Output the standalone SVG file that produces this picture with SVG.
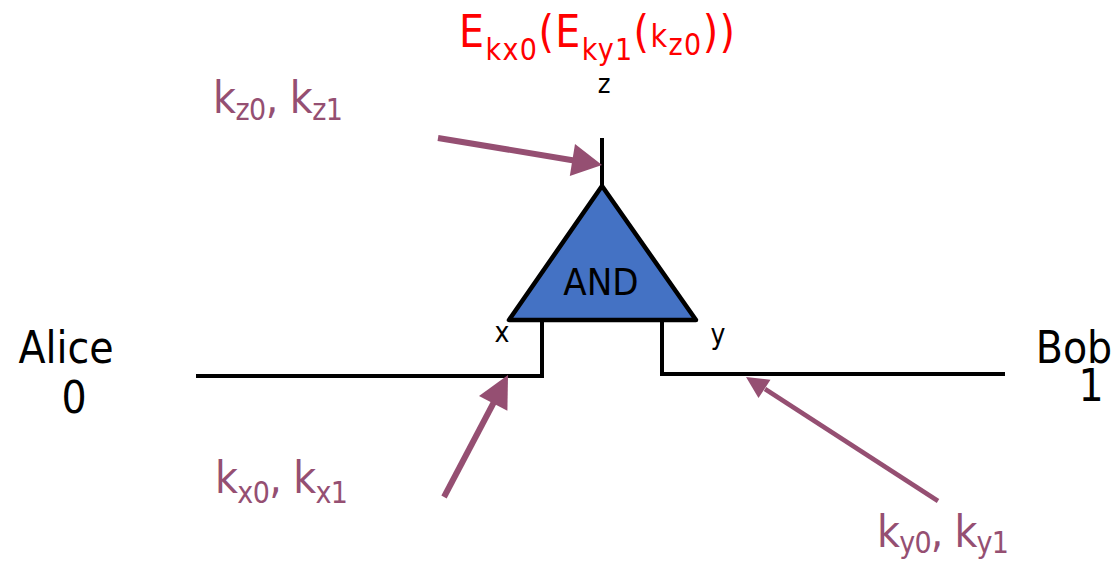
<svg xmlns="http://www.w3.org/2000/svg" width="1118" height="561" viewBox="0 0 1118 561">
<style>
text{font-family:"DejaVu Sans Condensed","DejaVu Sans",sans-serif;}
.main{font-size:44px;fill:#000;}
.red{fill:#FF0000;}
.pur{fill:#954F72;}
.sub{font-size:30px;}
.wire{stroke:#000;stroke-width:4;fill:none;}
.arr{stroke:#954F72;fill:none;}
.head{fill:#954F72;}
</style>
<rect width="1118" height="561" fill="#fff"/>
<g id="connectors">
  <polyline class="wire" points="196,376 542,376 542,320"/>
  <polyline class="wire" points="1005,374 662,374 662,320"/>
  <line class="wire" x1="602" y1="138" x2="602" y2="188"/>
  <line class="arr" stroke-width="6" x1="438" y1="138" x2="574" y2="160.5"/>
  <polygon class="head" points="602,165 575,144 569.8,176"/>
  <line class="arr" stroke-width="6" x1="444" y1="497" x2="494" y2="402"/>
  <polygon class="head" points="508,375 479,396 507.4,410.7"/>
  <line class="arr" stroke-width="4.5" x1="938" y1="501" x2="765" y2="389"/>
  <polygon class="head" points="746,377 770.5,379.7 758.5,398.1"/>
</g>
<g id="gate">
  <polygon points="602,186 509,320 696,320" fill="#4472C4" stroke="#000" stroke-width="4.5" stroke-linejoin="round"/>
  <text x="601" y="295" font-size="38" text-anchor="middle">AND</text>
</g>
<g id="title">
  <text class="red" font-size="44" x="459" y="47" textLength="276" lengthAdjust="spacing">E<tspan class="sub" dy="13">kx0</tspan><tspan dy="-13">(E</tspan><tspan class="sub" dy="13">ky1</tspan><tspan dy="-13">(</tspan><tspan font-size="32">k</tspan><tspan class="sub" dy="8">z0</tspan><tspan dy="-8">))</tspan></text>
</g>
<g id="port-z"><text x="604" y="93" font-size="27" text-anchor="middle">z</text></g>
<g id="port-x"><text x="502" y="342" font-size="28" text-anchor="middle">x</text></g>
<g id="port-y"><text x="718" y="344" font-size="28" text-anchor="middle">y</text></g>
<g id="alice">
  <text class="main" x="66" y="363" text-anchor="middle">Alice</text>
  <text class="main" x="74" y="413" text-anchor="middle">0</text>
</g>
<g id="bob">
  <text class="main" x="1074" y="363" text-anchor="middle">Bob</text>
  <text class="main" x="1091" y="401" text-anchor="middle">1</text>
</g>
<g id="keys-z">
  <text class="pur" font-size="44" x="213" y="113" textLength="130" lengthAdjust="spacing">k<tspan class="sub" dy="7">z0</tspan><tspan dy="-7">, k</tspan><tspan class="sub" dy="7">z1</tspan></text>
</g>
<g id="keys-x">
  <text class="pur" font-size="44" x="215" y="493" textLength="133" lengthAdjust="spacing">k<tspan class="sub" dy="10">x0</tspan><tspan dy="-10">, k</tspan><tspan class="sub" dy="10">x1</tspan></text>
</g>
<g id="keys-y">
  <text class="pur" font-size="44" x="877" y="547" textLength="132" lengthAdjust="spacing">k<tspan class="sub" dy="6">y0</tspan><tspan dy="-6">, k</tspan><tspan class="sub" dy="6">y1</tspan></text>
</g>
</svg>
